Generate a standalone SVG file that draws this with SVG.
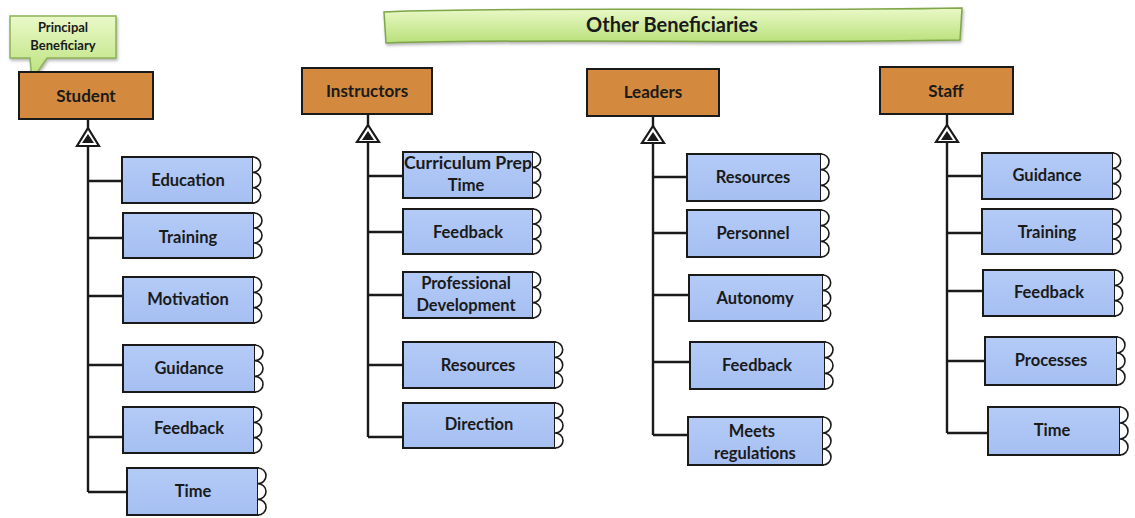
<svg xmlns="http://www.w3.org/2000/svg" width="1135" height="518" viewBox="0 0 1135 518">
<defs>
<linearGradient id="green" x1="0" y1="0" x2="0" y2="1">
<stop offset="0" stop-color="#EAF9C8"/>
<stop offset="1" stop-color="#B9E07A"/>
</linearGradient>
<linearGradient id="blue" x1="0" y1="0" x2="0" y2="1">
<stop offset="0" stop-color="#B4CBF7"/>
<stop offset="1" stop-color="#A6BFF2"/>
</linearGradient>
<filter id="sh" x="-10%" y="-10%" width="130%" height="150%">
<feDropShadow dx="1" dy="2" stdDeviation="1.5" flood-color="#666" flood-opacity="0.5"/>
</filter>
</defs>
<style>
text{font-family:Lato,"Open Sans","Liberation Sans",sans-serif;font-weight:bold;fill:#1a1a1a;text-anchor:middle}
.lbl{font-size:16.5px}
.hd{font-size:17px}
.sm{font-size:13px}
.parent{fill:#D38A3E;stroke:#1a1a1a;stroke-width:2}
.child{fill:url(#blue);stroke:#1a1a1a;stroke-width:2}
.sc{fill:#fff;stroke:#1a1a1a;stroke-width:1.6}
.ln{stroke:#1a1a1a;stroke-width:2.4;fill:none}
.tri{fill:#fff;stroke:#1a1a1a;stroke-width:2.2;stroke-linejoin:miter}
.trin{fill:#1a1a1a}
</style>
<rect width="1135" height="518" fill="#fff"/>

<!-- banner -->
<g id="banner">
<path d="M384,12 C520,6 760,12 962,8 L960,40 C760,44 520,38 386,43 Z" fill="url(#green)" stroke="#7FA648" stroke-width="1.5" filter="url(#sh)"/>
<text x="672" y="32" style="font-size:20px">Other Beneficiaries</text>
</g>

<!-- callout -->
<g id="callout">
<path d="M10,16 H116 V58 H47 L32,80 L30,58 H10 Z" fill="url(#green)" stroke="#8CB356" stroke-width="1.5" filter="url(#sh)"/>
<text class="sm" x="63" y="32">Principal</text>
<text class="sm" x="63" y="50">Beneficiary</text>
</g>

<!-- connectors -->
<g id="connectors">
<path class="ln" d="M88,119 V492 M88,181 H122 M88,238 H123 M88,296 H123 M88,365 H123 M88,437 H123 M88,492 H127"/>
<path class="ln" d="M368,114 V437 M368,176 H403 M368,232 H403 M368,295 H403 M368,365 H403 M368,437 H403"/>
<path class="ln" d="M653,116 V435 M653,177 H687 M653,233 H687 M653,295 H689 M653,362 H690 M653,435 H688"/>
<path class="ln" d="M947,114 V433 M947,176 H982 M947,233 H982 M947,291 H983 M947,361 H985 M947,433 H988"/>
<path class="tri" d="M88,128 L99,146 H77 Z"/>
<path class="trin" d="M88,134 L94,143 H82 Z"/>
<path class="tri" d="M368,125 L379,142 H357 Z"/>
<path class="trin" d="M368,131 L374,140 H362 Z"/>
<path class="tri" d="M653,126 L664,143 H642 Z"/>
<path class="trin" d="M653,132 L659,141 H647 Z"/>
<path class="tri" d="M947,125 L958,142 H936 Z"/>
<path class="trin" d="M947,131 L953,140 H941 Z"/>
</g>

<!-- parents -->
<g id="student"><rect class="parent" x="19" y="72" width="134" height="47"/><text class="hd" x="86" y="102">Student</text></g>
<g id="instructors"><rect class="parent" x="302" y="68" width="130" height="46"/><text class="hd" x="367" y="97">Instructors</text></g>
<g id="leaders"><rect class="parent" x="587" y="69" width="132" height="47"/><text class="hd" x="653" y="98">Leaders</text></g>
<g id="staff"><rect class="parent" x="880" y="67" width="133" height="47"/><text class="hd" x="946" y="97">Staff</text></g>

<!-- student children -->
<g id="s-education"><rect class="child" x="122" y="157" width="131" height="46"/><path class="sc" d="M253,157 a8,7.67 0 0 1 0,15.33 a8,7.67 0 0 1 0,15.33 a8,7.67 0 0 1 0,15.33"/><text class="lbl" x="188" y="186">Education</text></g>
<g id="s-training"><rect class="child" x="123" y="213" width="131" height="45"/><path class="sc" d="M254,213 a8,7.5 0 0 1 0,15 a8,7.5 0 0 1 0,15 a8,7.5 0 0 1 0,15"/><text class="lbl" x="188" y="243">Training</text></g>
<g id="s-motivation"><rect class="child" x="123" y="277" width="131" height="46"/><path class="sc" d="M254,277 a8,7.67 0 0 1 0,15.33 a8,7.67 0 0 1 0,15.33 a8,7.67 0 0 1 0,15.33"/><text class="lbl" x="188" y="305">Motivation</text></g>
<g id="s-guidance"><rect class="child" x="123" y="345" width="132" height="47"/><path class="sc" d="M255,345 a8,7.83 0 0 1 0,15.67 a8,7.83 0 0 1 0,15.67 a8,7.83 0 0 1 0,15.67"/><text class="lbl" x="189" y="374">Guidance</text></g>
<g id="s-feedback"><rect class="child" x="123" y="407" width="131" height="46"/><path class="sc" d="M254,407 a8,7.67 0 0 1 0,15.33 a8,7.67 0 0 1 0,15.33 a8,7.67 0 0 1 0,15.33"/><text class="lbl" x="189" y="434">Feedback</text></g>
<g id="s-time"><rect class="child" x="127" y="468" width="131" height="47"/><path class="sc" d="M258,468 a8,7.83 0 0 1 0,15.67 a8,7.83 0 0 1 0,15.67 a8,7.83 0 0 1 0,15.67"/><text class="lbl" x="193" y="497">Time</text></g>

<!-- instructor children -->
<g id="i-curriculum"><rect class="child" x="403" y="152" width="130" height="46"/><path class="sc" d="M533,152 a8,7.67 0 0 1 0,15.33 a8,7.67 0 0 1 0,15.33 a8,7.67 0 0 1 0,15.33"/><text class="lbl" x="468" y="169" textLength="128" lengthAdjust="spacingAndGlyphs">Curriculum Prep</text><text class="lbl" x="466" y="191">Time</text></g>
<g id="i-feedback"><rect class="child" x="403" y="209" width="130" height="45"/><path class="sc" d="M533,209 a8,7.5 0 0 1 0,15 a8,7.5 0 0 1 0,15 a8,7.5 0 0 1 0,15"/><text class="lbl" x="468" y="238">Feedback</text></g>
<g id="i-profdev"><rect class="child" x="403" y="272" width="130" height="46"/><path class="sc" d="M533,272 a8,7.67 0 0 1 0,15.33 a8,7.67 0 0 1 0,15.33 a8,7.67 0 0 1 0,15.33"/><text class="lbl" x="466" y="289">Professional</text><text class="lbl" x="466" y="311">Development</text></g>
<g id="i-resources"><rect class="child" x="403" y="342" width="152" height="46"/><path class="sc" d="M555,342 a8,7.67 0 0 1 0,15.33 a8,7.67 0 0 1 0,15.33 a8,7.67 0 0 1 0,15.33"/><text class="lbl" x="478" y="371">Resources</text></g>
<g id="i-direction"><rect class="child" x="403" y="403" width="152" height="45"/><path class="sc" d="M555,403 a8,7.5 0 0 1 0,15 a8,7.5 0 0 1 0,15 a8,7.5 0 0 1 0,15"/><text class="lbl" x="479" y="430">Direction</text></g>

<!-- leader children -->
<g id="l-resources"><rect class="child" x="687" y="154" width="134" height="47"/><path class="sc" d="M821,154 a8,7.83 0 0 1 0,15.67 a8,7.83 0 0 1 0,15.67 a8,7.83 0 0 1 0,15.67"/><text class="lbl" x="753" y="183">Resources</text></g>
<g id="l-personnel"><rect class="child" x="687" y="210" width="134" height="47"/><path class="sc" d="M821,210 a8,7.83 0 0 1 0,15.67 a8,7.83 0 0 1 0,15.67 a8,7.83 0 0 1 0,15.67"/><text class="lbl" x="753" y="239">Personnel</text></g>
<g id="l-autonomy"><rect class="child" x="689" y="275" width="134" height="46"/><path class="sc" d="M823,275 a8,7.67 0 0 1 0,15.33 a8,7.67 0 0 1 0,15.33 a8,7.67 0 0 1 0,15.33"/><text class="lbl" x="755" y="304">Autonomy</text></g>
<g id="l-feedback"><rect class="child" x="690" y="342" width="135" height="47"/><path class="sc" d="M825,342 a8,7.83 0 0 1 0,15.67 a8,7.83 0 0 1 0,15.67 a8,7.83 0 0 1 0,15.67"/><text class="lbl" x="757" y="371">Feedback</text></g>
<g id="l-meets"><rect class="child" x="688" y="417" width="135" height="48"/><path class="sc" d="M823,417 a8,8 0 0 1 0,16 a8,8 0 0 1 0,16 a8,8 0 0 1 0,16"/><text class="lbl" x="752" y="437">Meets</text><text class="lbl" x="755" y="459">regulations</text></g>

<!-- staff children -->
<g id="f-guidance"><rect class="child" x="982" y="153" width="131" height="46"/><path class="sc" d="M1113,153 a8,7.67 0 0 1 0,15.33 a8,7.67 0 0 1 0,15.33 a8,7.67 0 0 1 0,15.33"/><text class="lbl" x="1047" y="181">Guidance</text></g>
<g id="f-training"><rect class="child" x="982" y="209" width="131" height="45"/><path class="sc" d="M1113,209 a8,7.5 0 0 1 0,15 a8,7.5 0 0 1 0,15 a8,7.5 0 0 1 0,15"/><text class="lbl" x="1047" y="238">Training</text></g>
<g id="f-feedback"><rect class="child" x="983" y="270" width="132" height="46"/><path class="sc" d="M1115,270 a8,7.67 0 0 1 0,15.33 a8,7.67 0 0 1 0,15.33 a8,7.67 0 0 1 0,15.33"/><text class="lbl" x="1049" y="298">Feedback</text></g>
<g id="f-processes"><rect class="child" x="985" y="337" width="132" height="48"/><path class="sc" d="M1117,337 a8,8 0 0 1 0,16 a8,8 0 0 1 0,16 a8,8 0 0 1 0,16"/><text class="lbl" x="1051" y="366">Processes</text></g>
<g id="f-time"><rect class="child" x="988" y="407" width="132" height="48"/><path class="sc" d="M1120,407 a8,8 0 0 1 0,16 a8,8 0 0 1 0,16 a8,8 0 0 1 0,16"/><text class="lbl" x="1052" y="436">Time</text></g>
</svg>
